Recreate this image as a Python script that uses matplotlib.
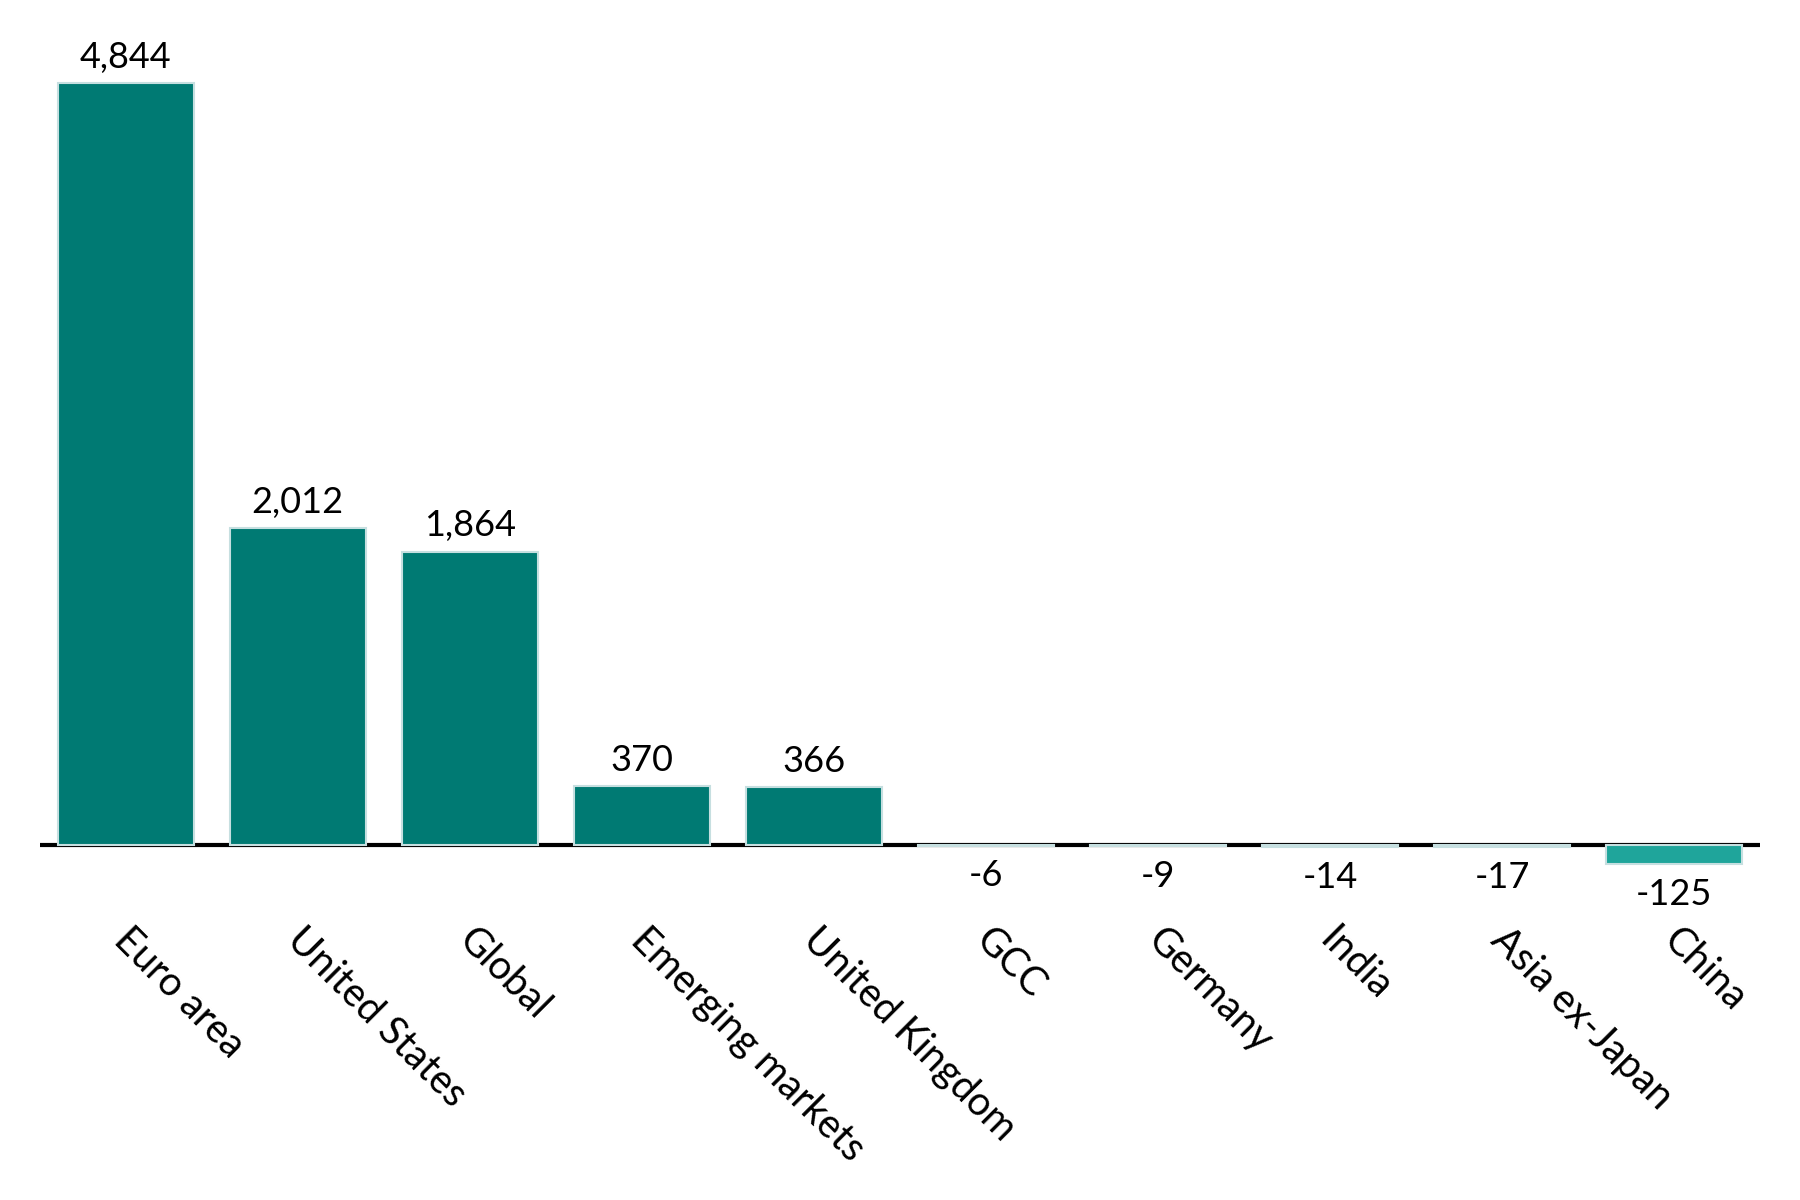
import numpy as np
import matplotlib
matplotlib.use("Agg")
import matplotlib.pyplot as plt
from matplotlib.transforms import ScaledTranslation

plt.rcParams['font.family'] = ['Lato', 'DejaVu Sans']

categories = ["Euro area", "United States", "Global", "Emerging markets", "United Kingdom",
              "GCC", "Germany", "India", "Asia ex-Japan", "China"]
values = [4844, 2012, 1864, 370, 366, -6, -9, -14, -17, -125]

pos_color = "#007A73"
neg_color = "#1FA59B"

fig = plt.figure(figsize=(18, 12), dpi=100)
ax = fig.add_axes([0.022, 0.270, 0.956, 0.694])

x = np.arange(len(categories))
colors = [pos_color if v >= 0 else neg_color for v in values]
# bars sit on top of the zero line, with a pale edge
ax.bar(x, values, width=0.79, color=colors, edgecolor="#c6dfe0", linewidth=1.5, zorder=3)
ax.axhline(0, color="black", linewidth=3, zorder=2)

# value labels
for xi, v in zip(x, values):
    if v >= 0:
        ax.annotate(f"{v:,}", (xi, v), xytext=(0, 11), textcoords="offset points",
                    ha="center", va="baseline", fontsize=26, color="black")
    else:
        ax.annotate(f"{v:,}", (xi, v), xytext=(0, -10), textcoords="offset points",
                    ha="center", va="top", fontsize=26, color="black")

ax.set_xlim(-0.5, len(categories) - 0.5)
ax.set_ylim(-200, 5100)
ax.set_yticks([])
ax.set_xticks(x)
ax.set_xticklabels(categories, rotation=-45, ha="left", va="top",
                   rotation_mode="anchor", fontsize=28.5)
ax.tick_params(axis="x", length=0, pad=32.5)
shift = ScaledTranslation(0.08, 0, fig.dpi_scale_trans)
for lbl in ax.get_xticklabels():
    lbl.set_transform(lbl.get_transform() + shift)
for s in ax.spines.values():
    s.set_visible(False)

fig.savefig("out.png", dpi=100, facecolor="white")
